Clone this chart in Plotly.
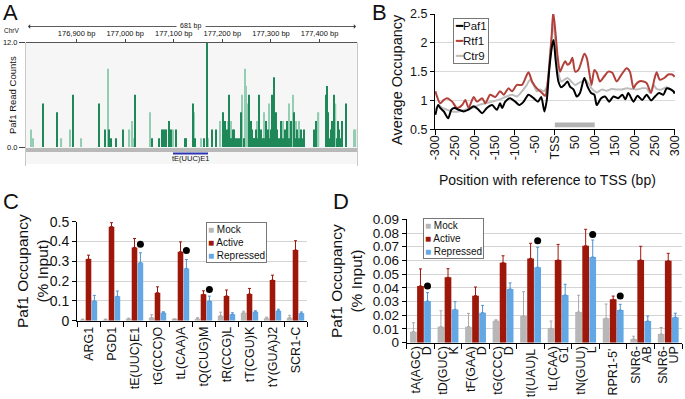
import plotly.graph_objects as go

W, H = 685, 399
def px(x): return x / W
def py(y): return 1 - y / H

FONT = "Liberation Sans, Arial, Helvetica, sans-serif"
INK = "#111111"

# ---------------- Panel A : Paf1 read counts (ChrV) ----------------
a_range = [176796, 177477]
a_ticks = [176900, 177000, 177100, 177200, 177300, 177400]
a_tick_text = ["176,900 bp", "177,000 bp", "177,100 bp", "177,200 bp", "177,300 bp", "177,400 bp"]
a_dark_pos = [176831, 176860, 176892, 176946, 176958, 176966, 176970, 176981, 176996, 177020,
              177055, 177070, 177075, 177080, 177085, 177090, 177095, 177105, 177123, 177125,
              177139, 177143, 177163, 177168, 177178, 177187, 177202, 177205, 177209, 177214,
              177221, 177224, 177228, 177236, 177239, 177255, 177259, 177262, 177265, 177269,
              177276, 177279, 177283, 177289, 177293, 177300, 177303, 177306, 177310, 177313,
              177317, 177321, 177329, 177334, 177341, 177348, 177354, 177361, 177368, 177389,
              177392, 177413, 177415, 177418, 177423, 177426, 177430, 177437, 177440, 177447,
              177454, 177212, 177217, 177232, 177244, 177266, 177272, 177286, 177297, 177325,
              177331, 177338, 177351, 177357, 177364, 177420, 177428, 177435, 177444]
a_dark_counts = [5, 4, 6, 5, 2, 2, 1, 1, 2, 6,
                 1, 1, 2, 2, 2, 3, 2, 2, 1, 1,
                 5, 1, 1, 12, 2, 2, 4, 3, 2, 6,
                 2, 2, 1, 1, 4, 6, 3, 2, 1, 2,
                 6, 2, 1, 3, 2, 2, 6, 8, 4, 2,
                 1, 3, 2, 3, 3, 4, 2, 2, 2, 2,
                 3, 6, 7, 4, 2, 3, 6, 3, 2, 3,
                 5, 1, 1, 1, 1, 1, 1, 1, 1, 1,
                 1, 1, 1, 1, 1, 1, 1, 1, 1]
a_light_pos = [176807, 176810, 176869, 176887, 176910, 176965, 177009, 177014, 177017, 177051,
               177077, 177083, 177092, 177098, 177141, 177156, 177170, 177196, 177211, 177218,
               177241, 177246, 177248, 177252, 177272, 177286, 177296, 177325, 177337, 177345,
               177351, 177358, 177398, 177433, 177471, 177474]
a_light_counts = [2, 1, 1, 2, 1, 9, 2, 3, 1, 4,
                  2, 2, 2, 2, 4, 1, 1, 3, 3, 3,
                  6, 9, 7, 5, 3, 4, 5, 3, 5, 6,
                  3, 3, 4, 5, 2, 2]

# ---------------- Panel B : average occupancy around TSS ----------------
b_tick_vals = [-300, -250, -200, -150, -100, -50, 0, 50, 100, 150, 200, 250, 300]
b_tick_text = ["-300", "-250", "-200", "-150", "-100", "-50", "TSS", "50", "100", "150", "200", "250", "300"]
b_mark_vals = [-300, -200, -100, 0, 100, 200, 300]
paf1_pos = [-299, -292, -287, -278, -267, -259, -251, -241, -228, -216, -203, -191, -182, -170,
            -157, -145, -137, -132, -124, -112, -99, -89, -78, -66, -53, -42, -34, -26, -20, -14,
            -7, -3, 2, 9, 16, 24, 32, 38, 47, 55, 63, 74, 82, 91, 99, 105, 116, 126, 136, 147,
            159, 169, 177, 184, 197, 207, 219, 230, 241, 251, 261, 272, 280, 288, 297, 300]
paf1_occ = [0.75, 0.92, 0.87, 0.81, 0.69, 0.84, 0.87, 0.84, 0.81, 0.84, 0.90, 0.84, 0.78, 0.87,
            0.92, 0.84, 0.95, 0.87, 0.98, 1.04, 0.98, 0.92, 0.98, 1.10, 1.04, 0.98, 1.06, 0.81, 1.01, 1.53,
            1.94, 2.05, 1.71, 1.33, 1.23, 1.27, 1.33, 1.24, 1.19, 1.07, 1.13, 1.39, 1.24, 1.13, 1.10, 0.92,
            1.04, 1.07, 0.98, 1.07, 1.04, 1.10, 1.02, 1.13, 0.98, 1.08, 1.01, 1.10, 1.00, 1.07, 1.13, 1.10,
            1.21, 1.20, 1.16, 1.12]
rtf1_pos = [-299, -295, -287, -278, -270, -257, -245, -232, -224, -216, -203, -195, -182, -174,
            -162, -149, -137, -128, -116, -107, -95, -82, -66, -57, -45, -32, -24, -16, -8, -4,
            1, 7, 13, 19, 26, 32, 38, 44, 51, 59, 67, 74, 80, 86, 92, 99, 105, 113, 124, 134,
            144, 155, 167, 180, 188, 197, 202, 211, 222, 230, 241, 249, 255, 263, 274, 284, 294, 300]
rtf1_occ = [1.16, 1.07, 0.95, 1.01, 1.04, 0.98, 0.87, 0.92, 1.01, 0.87, 1.06, 0.98, 1.04, 0.95,
            1.10, 1.06, 1.16, 1.10, 1.21, 1.16, 1.27, 1.27, 1.49, 1.33, 1.21, 1.13, 1.08, 1.42, 2.11, 2.53,
            2.23, 1.77, 1.50, 1.59, 1.68, 1.62, 1.65, 1.74, 1.50, 1.53, 1.68, 1.81, 1.74, 1.50, 1.27, 1.53,
            1.48, 1.33, 1.42, 1.50, 1.48, 1.33, 1.45, 1.56, 1.50, 1.21, 1.27, 1.33, 1.33, 1.30, 1.13, 1.36,
            1.49, 1.36, 1.39, 1.45, 1.45, 1.41]
ctr9_pos = [-299, -291, -282, -270, -257, -241, -224, -207, -191, -174, -157, -141, -124, -107,
            -95, -82, -70, -62, -53, -45, -37, -28, -20, -12, -3, 2, 9, 16, 24, 32, 41, 51, 59,
            69, 76, 84, 92, 105, 118, 130, 142, 155, 167, 180, 192, 205, 217, 230, 238, 247, 255,
            267, 280, 292, 300]
ctr9_occ = [0.84, 0.92, 0.87, 0.84, 0.81, 0.81, 0.84, 0.87, 0.92, 0.95, 0.98, 1.01, 1.06, 1.10,
            1.07, 1.16, 1.27, 1.36, 1.27, 1.16, 1.19, 1.16, 1.24, 1.82, 2.33, 1.94, 1.48, 1.33, 1.36,
            1.39, 1.33, 1.27, 1.30, 1.33, 1.36, 1.30, 1.21, 1.14, 1.19, 1.17, 1.20, 1.19, 1.19, 1.21,
            1.20, 1.19, 1.21, 1.21, 1.13, 1.27, 1.20, 1.19, 1.23, 1.19, 1.14]
tss_window = [0, 100]

# ---------------- Panel C ----------------
cats_c = ["ARG1", "PGD1", "tE(UUC)E1", "tG(CCC)O", "tL(CAA)A", "tQ(CUG)M",
          "tR(CCG)L", "tT(CGU)K", "tY(GUA)J2", "SCR1-C"]
mock_c = [0.005, 0.005, 0.008, 0.015, 0.006, 0.010, 0.025, 0.040, 0.013, 0.015]
mock_c_err = [0.003, 0.003, 0.005, 0.015, 0.003, 0.005, 0.018, 0.008, 0.005, 0.012]
active_c = [0.311, 0.475, 0.370, 0.141, 0.348, 0.133, 0.125, 0.135, 0.205, 0.357]
active_c_err = [0.020, 0.020, 0.045, 0.030, 0.050, 0.018, 0.030, 0.028, 0.025, 0.047]
rep_c = [0.100, 0.123, 0.293, 0.040, 0.264, 0.099, 0.032, 0.045, 0.050, 0.037]
rep_c_err = [0.028, 0.027, 0.050, 0.005, 0.045, 0.025, 0.008, 0.005, 0.008, 0.007]
dot_c = [None, None, 0.386, None, 0.354, 0.157, None, None, None, None]
c_ticks = [0, 0.1, 0.2, 0.3, 0.4, 0.5]
c_tick_text = ["0", "0.1", "0.2", "0.3", "0.4", "0.5"]

# ---------------- Panel D ----------------
cats_d_line1 = ["tA(AGC)", "tD(GUC)", "tF(GAA)", "tG(CCC)", "tI(UAU)L",
                "tL(CAA)", "tN(GUU)", "RPR1-5'", "SNR6-", "SNR6-"]
cats_d_line2 = ["D", "K", "D", "D", "", "G1", "L", "", "AB", "UP"]
mock_d = [0.008, 0.0117, 0.0117, 0.016, 0.0195, 0.0105, 0.0224, 0.0178, 0.0027, 0.0063]
mock_d_err = [0.0066, 0.0116, 0.0097, 0.0007, 0.0177, 0.0053, 0.0122, 0.0104, 0.002, 0.0048]
active_d = [0.0414, 0.0477, 0.0343, 0.0584, 0.0615, 0.0603, 0.0707, 0.0316, 0.0603, 0.0598]
active_d_err = [0.0124, 0.0063, 0.0063, 0.005, 0.011, 0.0114, 0.012, 0.0024, 0.010, 0.0054]
rep_d = [0.0304, 0.0243, 0.0219, 0.0392, 0.055, 0.0348, 0.0625, 0.0238, 0.0158, 0.0185]
rep_d_err = [0.0061, 0.0056, 0.0053, 0.0044, 0.0146, 0.0078, 0.0124, 0.0042, 0.0036, 0.003]
dot_d = [0.0414, None, None, None, 0.0744, None, 0.079, 0.034, None, None]
d_ticks = [0, 0.01, 0.02, 0.03, 0.04, 0.05, 0.06, 0.07, 0.08, 0.09]
d_tick_text = ["0", "0.01", "0.02", "0.03", "0.04", "0.05", "0.06", "0.07", "0.08", "0.09"]

# ---------------- styles ----------------
COL_MOCK = "#b7b7b7"
COL_ACT = "#9e170b"
COL_REP = "#63a7e4"
COL_PAF = "#000000"
COL_RTF = "#b3413b"
COL_CTR = "#bdbdbd"
BARGAP = 0.23

fig = go.Figure()

# Panel A bars
fig.add_trace(go.Bar(x=a_light_pos, y=a_light_counts, width=2.6, offset=-1.3,
                     marker=dict(color="#93cdb3", line=dict(width=0)),
                     xaxis="x", yaxis="y", showlegend=False, hoverinfo="skip"))
fig.add_trace(go.Bar(x=a_dark_pos, y=a_dark_counts, width=2.2, offset=-1.1,
                     marker=dict(color="#1f8858", line=dict(width=0)),
                     xaxis="x", yaxis="y", showlegend=False, hoverinfo="skip"))

# Panel B lines
for pos, occ, col in [(ctr9_pos, ctr9_occ, COL_CTR), (rtf1_pos, rtf1_occ, COL_RTF),
                      (paf1_pos, paf1_occ, COL_PAF)]:
    fig.add_trace(go.Scatter(x=pos, y=occ, mode="lines",
                             line=dict(color=col, width=2, shape="spline", smoothing=0.7),
                             xaxis="x2", yaxis="y2", showlegend=False))
# invisible anchor so the overlaid tick-mark axis of panel B is drawn
fig.add_trace(go.Scatter(x=b_mark_vals, y=[0.5] * len(b_mark_vals), mode="markers",
                         marker=dict(opacity=0), xaxis="x5", yaxis="y2",
                         showlegend=False, hoverinfo="skip"))

# Panels C and D bars
def add_bars(mock, mock_err, act, act_err, rep, rep_err, dots, xa, ya):
    idx = list(range(len(mock)))
    for vals, errs, col, ecol in [(mock, mock_err, COL_MOCK, "#a8a8a8"),
                                  (act, act_err, COL_ACT, COL_ACT),
                                  (rep, rep_err, COL_REP, "#4f93d0")]:
        fig.add_trace(go.Bar(x=idx, y=vals, marker=dict(color=col, line=dict(width=0)),
                             error_y=dict(type="data", array=errs, arrayminus=[0] * len(errs),
                                          symmetric=False, color=ecol, thickness=1, width=1.5),
                             xaxis=xa, yaxis=ya, showlegend=False))
    off = (1 - BARGAP) / 3
    dx = [i + off for i, d in enumerate(dots) if d is not None]
    dy = [d for d in dots if d is not None]
    fig.add_trace(go.Scatter(x=dx, y=dy, mode="markers",
                             marker=dict(color="black", size=7),
                             xaxis=xa, yaxis=ya, showlegend=False))

add_bars(mock_c, mock_c_err, active_c, active_c_err, rep_c, rep_c_err, dot_c, "x3", "y3")
add_bars(mock_d, mock_d_err, active_d, active_d_err, rep_d, rep_d_err, dot_d, "x4", "y4")

n_d = len(cats_d_line1)
two_line = [i for i in range(n_d) if cats_d_line2[i]]
one_line = [i for i in range(n_d) if not cats_d_line2[i]]
for xa in ["x6", "x7"]:
    fig.add_trace(go.Scatter(x=two_line, y=[0] * len(two_line), mode="markers",
                             marker=dict(opacity=0), xaxis=xa, yaxis="y4",
                             showlegend=False, hoverinfo="skip"))

tickf = lambda s: dict(family=FONT, size=s, color=INK)
D_DOM = [px(406.7), px(682)]
D_RANGE = [-0.5, n_d - 0.5]

def d_label_axis(vals, texts, shift):
    return dict(domain=D_DOM, range=D_RANGE, anchor="y4", overlaying="x4",
                tickmode="array", tickvals=vals, ticktext=texts, tickangle=-90,
                ticks="", tickfont=tickf(12.5), ticklabelshift=shift,
                showline=False, showgrid=False, zeroline=False)

layout = dict(
    width=W, height=H, margin=dict(l=0, r=0, t=0, b=0, autoexpand=False),
    paper_bgcolor="white", plot_bgcolor="rgba(0,0,0,0)",
    barmode="group", bargap=BARGAP, bargroupgap=0.05, showlegend=False,
    font=dict(family=FONT, color=INK),
    # Panel A
    xaxis=dict(domain=[px(26), px(357)], range=a_range, anchor="y", side="top",
               tickmode="array", tickvals=a_ticks, ticktext=a_tick_text, ticks="outside",
               ticklen=3, tickcolor="#444", tickfont=tickf(7.5), showline=True,
               linecolor="#555", linewidth=1, showgrid=False, zeroline=False),
    yaxis=dict(domain=[py(147), py(42.5)], range=[0, 12], anchor="x",
               tickmode="array", tickvals=[0, 12], ticktext=["0.0", "12.0"], ticks="outside",
               ticklen=6, tickcolor="#444", tickfont=tickf(7.5), showline=False,
               showgrid=False, zeroline=False),
    # Panel B
    xaxis2=dict(domain=[px(435), px(675)], range=[-300, 301], anchor="y2",
                tickmode="array", tickvals=b_tick_vals, ticktext=b_tick_text, tickangle=-90,
                ticks="", tickfont=tickf(12.5), showline=True, linecolor="black",
                linewidth=1, showgrid=False, zeroline=False),
    xaxis5=dict(domain=[px(435), px(675)], range=[-300, 301], anchor="y2", overlaying="x2",
                tickmode="array", tickvals=b_mark_vals,
                ticks="outside", ticklen=5, tickcolor="black", showticklabels=False,
                showline=False, showgrid=False, zeroline=False),
    yaxis2=dict(domain=[py(129.3), py(14)], range=[0.5, 2.5], anchor="x2",
                tickmode="array", tickvals=[0.5, 1, 1.5, 2, 2.5],
                ticktext=["0.5", "1", "1.5", "2", "2.5"], ticks="outside", ticklen=4,
                tickcolor="black", tickfont=tickf(12.5), showline=True, linecolor="black",
                linewidth=1, showgrid=True, gridcolor="#d9d9d9", zeroline=False),
    # Panel C
    xaxis3=dict(domain=[px(77), px(307)], range=[-0.5, len(cats_c) - 0.5], anchor="y3",
                tickmode="array", tickvals=list(range(len(cats_c))), ticktext=cats_c,
                tickangle=-90, ticks="", tickfont=tickf(12.5), showline=True,
                linecolor="black", linewidth=1, showgrid=False, zeroline=False,
                minor=dict(tickmode="array", tickvals=[i - 0.5 for i in range(len(cats_c) + 1)],
                           ticks="outside", ticklen=5, tickcolor="black", showgrid=False)),
    yaxis3=dict(domain=[py(320.7), py(221.7)], range=[0, 0.5], anchor="x3",
                tickmode="array", tickvals=c_ticks, ticktext=c_tick_text, ticks="outside",
                ticklen=4, tickcolor="black", tickfont=tickf(14), showline=True,
                linecolor="black", linewidth=1, showgrid=True, gridcolor="#d4d4d4",
                zeroline=False),
    # Panel D
    xaxis4=dict(domain=D_DOM, range=D_RANGE, anchor="y4",
                tickmode="array", tickvals=one_line, ticktext=[cats_d_line1[i] for i in one_line],
                tickangle=-90, ticks="", tickfont=tickf(12.5), showline=True,
                linecolor="black", linewidth=1, showgrid=False, zeroline=False,
                minor=dict(tickmode="array", tickvals=[i - 0.5 for i in range(n_d + 1)],
                           ticks="outside", ticklen=5, tickcolor="black", showgrid=False)),
    xaxis6=d_label_axis(two_line, [cats_d_line1[i] for i in two_line], -5),
    xaxis7=d_label_axis(two_line, [cats_d_line2[i] for i in two_line], 6),
    yaxis4=dict(domain=[py(342.7), py(219.3)], range=[0, 0.09], anchor="x4",
                tickmode="array", tickvals=d_ticks, ticktext=d_tick_text, ticks="outside",
                ticklen=4, tickcolor="black", tickfont=tickf(13.5), showline=True,
                linecolor="black", linewidth=1, showgrid=True, gridcolor="#d4d4d4",
                zeroline=False),
)
fig.update_layout(**layout)

# ---------------- shapes ----------------
shapes = [
    dict(type="rect", xref="paper", yref="paper", x0=px(26), x1=px(357), y0=py(164), y1=py(42.5),
         fillcolor="#f6f6f6", line=dict(width=0), layer="below"),
    dict(type="line", xref="paper", yref="paper", x0=px(25.5), x1=px(25.5), y0=py(166), y1=py(42.5),
         line=dict(color="#c8c8c8", width=1)),
    dict(type="line", xref="paper", yref="paper", x0=px(357.5), x1=px(357.5), y0=py(166), y1=py(42.5),
         line=dict(color="#c8c8c8", width=1)),
    dict(type="rect", xref="paper", yref="paper", x0=px(26), x1=px(357), y0=py(152), y1=py(148),
         fillcolor="#b9b9b9", line=dict(width=0)),
    dict(type="rect", xref="paper", yref="paper", x0=px(173), x1=px(208), y0=py(154.5), y1=py(152.5),
         fillcolor="#2a36b0", line=dict(width=0)),
    dict(type="rect", xref="x2", yref="y2", x0=tss_window[0], x1=tss_window[1], y0=0.535, y1=0.62,
         fillcolor="#b3b3b3", line=dict(width=0)),
]
fig.update_layout(shapes=shapes)

def txt(x, y, s, size, **kw):
    d = dict(x=px(x), y=py(y), xref="paper", yref="paper", text=s, showarrow=False,
             font=dict(family=FONT, size=size, color=INK))
    d.update(kw)
    return d

def sw(col, ch="■"):
    return "<span style='color:%s'>%s</span>" % (col, ch)

ann = [
    txt(1, 13, "A", 22, xanchor="left", yanchor="middle"),
    txt(370, 13, "B", 22, xanchor="left", yanchor="middle"),
    txt(1, 201, "C", 22, xanchor="left", yanchor="middle"),
    txt(331, 201, "D", 22, xanchor="left", yanchor="middle"),
    dict(x=px(28), y=py(26.5), xref="paper", yref="paper", text="", showarrow=True,
         ax=150, ay=0, arrowhead=1, arrowsize=0.9, arrowwidth=0.8, arrowcolor="#333"),
    dict(x=px(356), y=py(26.5), xref="paper", yref="paper", text="", showarrow=True,
         ax=-152, ay=0, arrowhead=1, arrowsize=0.9, arrowwidth=0.8, arrowcolor="#333"),
    txt(191, 25.5, "681 bp", 7, xanchor="center", yanchor="middle"),
    txt(2, 30, "ChrV", 6.5, xanchor="left", yanchor="middle"),
    txt(191, 158.5, "tE(UUC)E1", 7.5, xanchor="center", yanchor="middle"),
    txt(12, 95, "Paf1 Read Counts", 9.5, textangle=-90, xanchor="center", yanchor="middle"),
    txt(547, 180, "Position with reference to TSS (bp)", 14, xanchor="center", yanchor="middle"),
    txt(397, 80, "Average Occupancy", 14.5, textangle=-90, xanchor="center", yanchor="middle"),
    txt(453, 18, sw(COL_PAF, "━") + "Paf1<br>" + sw(COL_RTF, "━") + "Rtf1<br>"
        + sw(COL_CTR, "━") + "Ctr9", 11.5, xanchor="left", yanchor="top", align="left",
        bordercolor="#777", borderwidth=1, borderpad=1, bgcolor="white"),
    txt(32, 271, "Paf1 Occupancy<br>(% Input)", 15.5, textangle=-90, xanchor="center",
        yanchor="middle"),
    txt(206, 222, sw(COL_MOCK) + " Mock<br>" + sw(COL_ACT) + " Active<br>" + sw(COL_REP)
        + " Repressed", 10, xanchor="left", yanchor="top", align="left",
        bordercolor="#777", borderwidth=1, borderpad=1, bgcolor="white"),
    txt(346, 281, "Paf1 Occupancy<br>(% Input)", 15.5, textangle=-90, xanchor="center",
        yanchor="middle"),
    txt(423, 218, sw(COL_MOCK) + " Mock<br>" + sw(COL_ACT) + " Active<br>" + sw(COL_REP)
        + " Repressed", 10, xanchor="left", yanchor="top", align="left",
        bordercolor="#777", borderwidth=1, borderpad=1, bgcolor="white"),
]
fig.update_layout(annotations=ann)

fig.write_html("out.html", config={"displayModeBar": False},
               post_script="document.body.style.margin='0';document.body.style.overflow='hidden';")
